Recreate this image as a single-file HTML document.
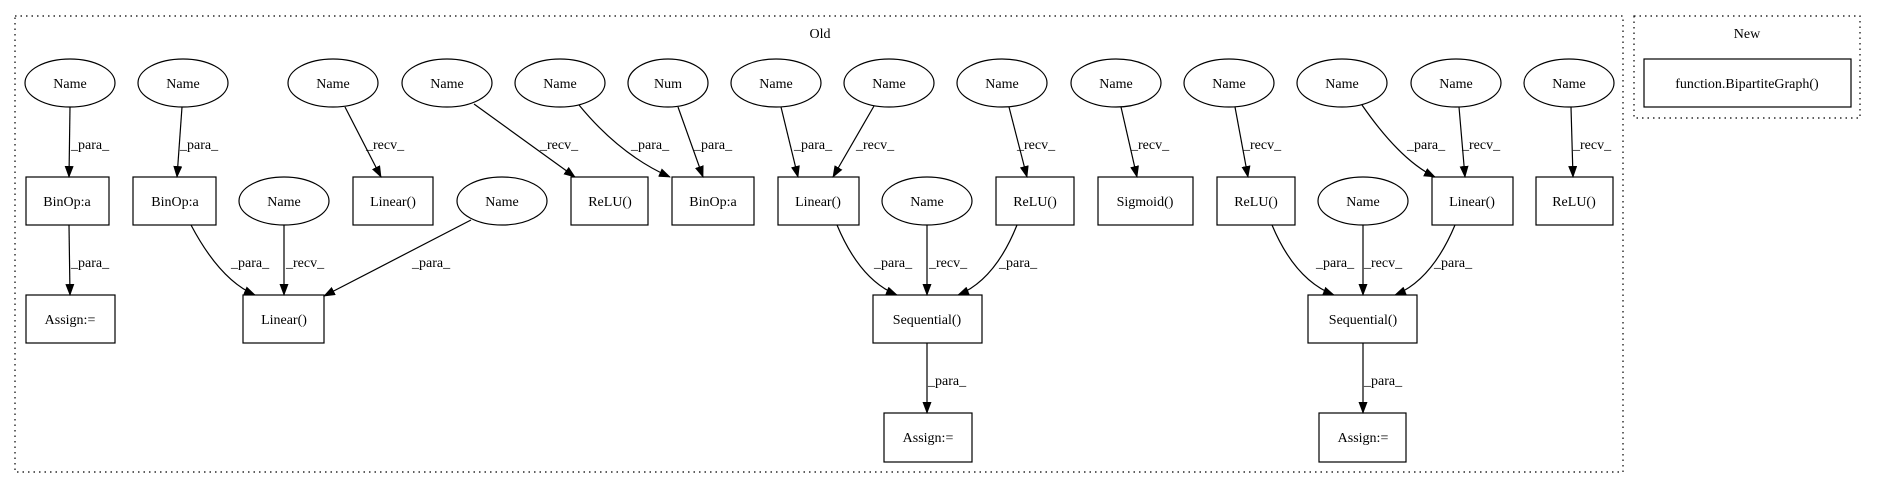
<!DOCTYPE html>
<html><head><meta charset="utf-8"><style>
html,body{margin:0;padding:0;background:#fff;}
svg{display:block;}
text{font-family:"Liberation Serif",serif;font-size:14px;fill:#000;}
</style></head><body>
<svg width="1877" height="488" viewBox="0 0 1877 488" xmlns="http://www.w3.org/2000/svg">
<defs><marker id="a" markerWidth="12" markerHeight="9" refX="11" refY="4.5" orient="auto" markerUnits="userSpaceOnUse"><path d="M0,0 L12,4.5 L0,9 z" fill="#000"/></marker></defs>
<g fill="none" stroke="#000" stroke-width="1.2" stroke-dasharray="1.5,4">
<rect x="15" y="16" width="1608" height="456"/>
<rect x="1634" y="16" width="226" height="102"/>
</g>
<text x="820" y="38" text-anchor="middle">Old</text>
<text x="1747" y="38" text-anchor="middle">New</text>
<g fill="none" stroke="#000" stroke-width="1.2">
<rect x="1644" y="59" width="207" height="48"/>
<ellipse cx="70" cy="83" rx="45" ry="24"/>
<ellipse cx="183" cy="83" rx="45" ry="24"/>
<ellipse cx="333" cy="83" rx="45" ry="24"/>
<ellipse cx="447" cy="83" rx="45" ry="24"/>
<ellipse cx="560" cy="83" rx="45" ry="24"/>
<ellipse cx="668" cy="83" rx="40" ry="24"/>
<ellipse cx="776" cy="83" rx="45" ry="24"/>
<ellipse cx="889" cy="83" rx="45" ry="24"/>
<ellipse cx="1002" cy="83" rx="45" ry="24"/>
<ellipse cx="1116" cy="83" rx="45" ry="24"/>
<ellipse cx="1229" cy="83" rx="45" ry="24"/>
<ellipse cx="1342" cy="83" rx="45" ry="24"/>
<ellipse cx="1456" cy="83" rx="45" ry="24"/>
<ellipse cx="1569" cy="83" rx="45" ry="24"/>
<rect x="26" y="177" width="83" height="48"/>
<rect x="133" y="177" width="83" height="48"/>
<ellipse cx="284" cy="201" rx="45" ry="24"/>
<rect x="353" y="177" width="80" height="48"/>
<ellipse cx="502" cy="201" rx="45" ry="24"/>
<rect x="571" y="177" width="77" height="48"/>
<rect x="672" y="177" width="82" height="48"/>
<rect x="778" y="177" width="81" height="48"/>
<ellipse cx="927" cy="201" rx="45" ry="24"/>
<rect x="996" y="177" width="78" height="48"/>
<rect x="1098" y="177" width="95" height="48"/>
<rect x="1217" y="177" width="78" height="48"/>
<ellipse cx="1363" cy="201" rx="45" ry="24"/>
<rect x="1432" y="177" width="81" height="48"/>
<rect x="1536" y="177" width="77" height="48"/>
<rect x="26" y="295" width="89" height="48"/>
<rect x="243" y="295" width="81" height="48"/>
<rect x="873" y="295" width="109" height="48"/>
<rect x="1308" y="295" width="109" height="48"/>
<rect x="884" y="413" width="88" height="49"/>
<rect x="1319" y="413" width="87" height="49"/>
</g>
<g fill="none" stroke="#000" stroke-width="1.2" marker-end="url(#a)">
<path d="M70,107 L69,177"/>
<path d="M182,107 L177,177"/>
<path d="M345,107 L381,177"/>
<path d="M474,104 L575,177"/>
<path d="M579,105 Q620,155 670,177"/>
<path d="M678,107 L703,177"/>
<path d="M781,107 L798,177"/>
<path d="M874,106 L833,177"/>
<path d="M1009,107 L1027,177"/>
<path d="M1121,107 L1137,177"/>
<path d="M1235,107 L1248,177"/>
<path d="M1362,105 Q1400,160 1435,177"/>
<path d="M1459,107 L1465,177"/>
<path d="M1571,107 L1573,177"/>
<path d="M69,225 L70,295"/>
<path d="M191,225 Q220,280 255,295"/>
<path d="M284,225 L284,295"/>
<path d="M471,220 L324,296"/>
<path d="M837,225 Q860,280 897,295"/>
<path d="M927,225 L927,295"/>
<path d="M1017,225 Q995,280 958,295"/>
<path d="M1272,225 Q1295,280 1334,295"/>
<path d="M1363,225 L1363,295"/>
<path d="M1455,225 Q1432,280 1395,295"/>
<path d="M927,343 L927,413"/>
<path d="M1363,343 L1363,413"/>
</g>
<g>
<text x="70" y="88" text-anchor="middle">Name</text>
<text x="183" y="88" text-anchor="middle">Name</text>
<text x="333" y="88" text-anchor="middle">Name</text>
<text x="447" y="88" text-anchor="middle">Name</text>
<text x="560" y="88" text-anchor="middle">Name</text>
<text x="668" y="88" text-anchor="middle">Num</text>
<text x="776" y="88" text-anchor="middle">Name</text>
<text x="889" y="88" text-anchor="middle">Name</text>
<text x="1002" y="88" text-anchor="middle">Name</text>
<text x="1116" y="88" text-anchor="middle">Name</text>
<text x="1229" y="88" text-anchor="middle">Name</text>
<text x="1342" y="88" text-anchor="middle">Name</text>
<text x="1456" y="88" text-anchor="middle">Name</text>
<text x="1569" y="88" text-anchor="middle">Name</text>
<text x="1747" y="88" text-anchor="middle">function.BipartiteGraph()</text>
<text x="67" y="206" text-anchor="middle">BinOp:a</text>
<text x="175" y="206" text-anchor="middle">BinOp:a</text>
<text x="284" y="206" text-anchor="middle">Name</text>
<text x="393" y="206" text-anchor="middle">Linear()</text>
<text x="502" y="206" text-anchor="middle">Name</text>
<text x="610" y="206" text-anchor="middle">ReLU()</text>
<text x="713" y="206" text-anchor="middle">BinOp:a</text>
<text x="818" y="206" text-anchor="middle">Linear()</text>
<text x="927" y="206" text-anchor="middle">Name</text>
<text x="1035" y="206" text-anchor="middle">ReLU()</text>
<text x="1145" y="206" text-anchor="middle">Sigmoid()</text>
<text x="1256" y="206" text-anchor="middle">ReLU()</text>
<text x="1363" y="206" text-anchor="middle">Name</text>
<text x="1472" y="206" text-anchor="middle">Linear()</text>
<text x="1574" y="206" text-anchor="middle">ReLU()</text>
<text x="70" y="324" text-anchor="middle">Assign:=</text>
<text x="284" y="324" text-anchor="middle">Linear()</text>
<text x="927" y="324" text-anchor="middle">Sequential()</text>
<text x="1363" y="324" text-anchor="middle">Sequential()</text>
<text x="928" y="442" text-anchor="middle">Assign:=</text>
<text x="1363" y="442" text-anchor="middle">Assign:=</text>
<text x="71" y="149">_para_</text>
<text x="180" y="149">_para_</text>
<text x="366" y="149">_recv_</text>
<text x="540" y="149">_recv_</text>
<text x="631" y="149">_para_</text>
<text x="694" y="149">_para_</text>
<text x="794" y="149">_para_</text>
<text x="856" y="149">_recv_</text>
<text x="1017" y="149">_recv_</text>
<text x="1131" y="149">_recv_</text>
<text x="1243" y="149">_recv_</text>
<text x="1407" y="149">_para_</text>
<text x="1462" y="149">_recv_</text>
<text x="1573" y="149">_recv_</text>
<text x="71" y="267">_para_</text>
<text x="231" y="267">_para_</text>
<text x="286" y="267">_recv_</text>
<text x="412" y="267">_para_</text>
<text x="874" y="267">_para_</text>
<text x="929" y="267">_recv_</text>
<text x="999" y="267">_para_</text>
<text x="1316" y="267">_para_</text>
<text x="1364" y="267">_recv_</text>
<text x="1434" y="267">_para_</text>
<text x="928" y="385">_para_</text>
<text x="1364" y="385">_para_</text>
</g>
</svg>
</body></html>
